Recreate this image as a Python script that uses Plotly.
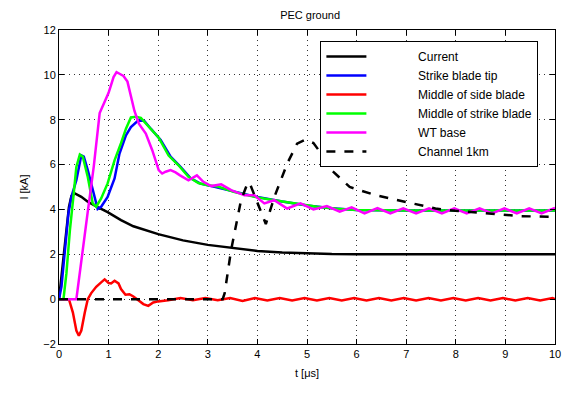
import plotly.graph_objects as go

# Current (black)
t_cur = [0, 0.05, 0.1, 0.15, 0.2, 0.25, 0.32, 0.45, 0.58, 0.78, 0.98, 1.25, 1.5, 2.0, 2.5, 3.0, 3.5, 4.0, 4.5, 5.0, 5.5, 6.0, 7.0, 8.0, 9.0, 10.0]
v_cur = [0, 1.0, 2.2, 3.3, 4.1, 4.6, 4.71, 4.56, 4.34, 4.1, 3.88, 3.52, 3.25, 2.9, 2.62, 2.42, 2.27, 2.15, 2.08, 2.03, 2.01, 2.0, 2.0, 2.0, 2.0, 2.0]

# Strike blade tip (blue)
t_tip = [0, 0.05, 0.12, 0.19, 0.25, 0.35, 0.45, 0.5, 0.58, 0.68, 0.78, 0.85, 0.98, 1.12, 1.22, 1.35, 1.45, 1.6, 1.72, 1.85, 2.05, 2.25, 2.45, 2.65, 2.85, 3.05, 3.5, 4.0, 4.5, 5.0, 5.5, 6.0, 7.0, 8.0, 9.0, 10.0]
v_tip = [0, 0.56, 2.19, 3.82, 4.56, 5.3, 6.41, 6.35, 5.75, 4.86, 4.02, 4.12, 4.56, 5.38, 6.49, 7.3, 7.67, 7.97, 7.95, 7.6, 7.1, 6.35, 5.9, 5.4, 5.15, 5.05, 4.8, 4.55, 4.35, 4.18, 4.05, 3.97, 3.95, 3.95, 3.95, 3.95]

# Middle of side blade (red)
t_side = [0, 0.2, 0.28, 0.35, 0.4, 0.45, 0.52, 0.58, 0.65, 0.75, 0.85, 0.92, 1.0, 1.05, 1.12, 1.2, 1.25, 1.34, 1.42, 1.5, 1.6, 1.7, 1.8, 1.9, 2.0, 2.2, 2.45, 2.7, 2.95, 3.2, 3.45, 3.7, 3.95, 4.2, 4.45, 4.7, 4.95, 5.2, 5.45, 5.7, 5.95, 6.2, 6.45, 6.7, 6.95, 7.2, 7.45, 7.7, 7.95, 8.2, 8.45, 8.7, 8.95, 9.2, 9.45, 9.7, 9.95, 10.0]
v_side = [0, 0, -0.6, -1.4, -1.63, -1.4, -0.6, 0, 0.27, 0.55, 0.75, 0.88, 0.72, 0.7, 0.82, 0.7, 0.45, 0.2, 0.22, 0.12, -0.05, -0.22, -0.3, -0.15, -0.1, -0.05, 0.05, -0.05, 0.05, -0.05, 0.05, -0.08, 0.05, -0.06, 0.05, -0.06, 0.05, -0.06, 0.05, -0.06, 0.05, -0.06, 0.05, -0.06, 0.05, -0.06, 0.05, -0.06, 0.05, -0.06, 0.05, -0.06, 0.05, -0.06, 0.05, -0.06, 0.05, 0.0]

# Middle of strike blade (green)
t_mid = [0, 0.09, 0.15, 0.22, 0.29, 0.35, 0.42, 0.48, 0.58, 0.68, 0.75, 0.85, 0.98, 1.12, 1.25, 1.35, 1.45, 1.55, 1.65, 1.81, 2.01, 2.21, 2.41, 2.61, 2.81, 3.0, 3.2, 3.54, 3.94, 4.34, 4.8, 5.2, 5.6, 6.0, 7.0, 8.0, 9.0, 10.0]
v_mid = [0, 0, 1.16, 3.08, 4.56, 5.89, 6.45, 6.35, 5.45, 4.27, 4.12, 4.49, 5.16, 6.19, 6.95, 7.6, 8.1, 8.13, 8.08, 7.67, 7.2, 6.4, 5.97, 5.45, 5.18, 5.08, 5.02, 4.78, 4.56, 4.41, 4.25, 4.12, 4.03, 3.97, 3.95, 3.95, 3.95, 3.95]

# WT base (magenta)
t_wt = [0, 0.35, 0.58, 0.7, 0.82, 0.9, 1.0, 1.1, 1.16, 1.22, 1.3, 1.38, 1.45, 1.52, 1.61, 1.75, 1.88, 2.01, 2.08, 2.15, 2.25, 2.35, 2.44, 2.61, 2.78, 2.91, 3.07, 3.27, 3.47, 3.74, 3.94, 4.14, 4.34, 4.6, 4.87, 5.13, 5.4, 5.66, 5.9, 6.16, 6.42, 6.68, 6.94, 7.2, 7.46, 7.72, 7.97, 8.22, 8.48, 8.73, 8.98, 9.23, 9.48, 9.73, 9.98, 10.0]
v_wt = [0, 0, 3.9, 5.9, 8.3, 8.7, 9.2, 9.9, 10.12, 10.05, 9.95, 9.7, 9.1, 8.4, 7.82, 7.38, 6.64, 5.75, 5.6, 5.68, 5.75, 5.65, 5.52, 5.3, 5.52, 5.23, 5.04, 5.12, 4.86, 4.63, 4.63, 4.27, 4.41, 4.04, 4.27, 4.0, 4.15, 3.9, 4.09, 3.82, 4.06, 3.82, 4.05, 3.82, 4.05, 3.82, 4.05, 3.82, 4.05, 3.82, 4.05, 3.82, 4.05, 3.82, 4.05, 4.0]

# Channel 1km (dashed black)
t_ch = [0, 3.3, 3.34, 3.47, 3.67, 3.8, 3.84, 3.95, 4.17, 4.35, 4.6, 4.8, 4.97, 5.13, 5.3, 5.46, 5.86, 6.39, 6.99, 7.39, 7.59, 7.99, 8.59, 9.32, 9.91, 10.0]
v_ch = [0, 0, 0.27, 2.19, 4.41, 5.16, 5.2, 4.6, 3.35, 4.6, 6.04, 6.93, 7.11, 6.96, 6.45, 5.82, 5.0, 4.63, 4.34, 4.12, 4.04, 3.94, 3.82, 3.7, 3.67, 3.78]

series_names = ["Current", "Strike blade tip", "Middle of side blade",
                "Middle of strike blade", "WT base", "Channel 1km"]

styles = [("black", "solid"), ("#0000ff", "solid"), ("#ff0000", "solid"),
          ("#00ff00", "solid"), ("#ff00ff", "solid"), ("black", "dash")]
data = [(t_cur, v_cur), (t_tip, v_tip), (t_side, v_side),
        (t_mid, v_mid), (t_wt, v_wt), (t_ch, v_ch)]

pad = "\u00a0" * 14  # leading space so legend text sits where the reference has it

fig = go.Figure()
for name, (t, v), (c, d) in zip(series_names, data, styles):
    fig.add_trace(go.Scatter(x=t, y=v, mode="lines", name=pad + name,
                             line=dict(color=c, dash=d, width=2.5)))

font = "Liberation Sans, Arial, sans-serif"
axis_common = dict(showline=True, linecolor="black", linewidth=1, mirror="ticks",
                   ticks="inside", ticklen=5, tickcolor="black",
                   showgrid=True, gridcolor="#333333", griddash="1px,4px", gridwidth=1,
                   zeroline=False, tickfont=dict(size=11, color="black"))

fig.update_layout(
    width=569, height=394,
    margin=dict(l=59, r=8, t=30, b=50),
    paper_bgcolor="white", plot_bgcolor="white",
    font=dict(family=font, size=11, color="black"),
    title=dict(text="PEC ground", x=0.545, xanchor="center", y=0.962, yanchor="middle",
               font=dict(size=11, color="black")),
    xaxis=dict(range=[0, 10], dtick=1, tick0=0,
               title=dict(text="t [μs]", font=dict(size=11), standoff=10), **axis_common),
    yaxis=dict(range=[-2, 12], dtick=2, tick0=0,
               title=dict(text="I [kA]", font=dict(size=11), standoff=12), **axis_common),
    legend=dict(x=0.527, y=0.965, xanchor="left", yanchor="top",
                bgcolor="white", bordercolor="black", borderwidth=1,
                font=dict(size=12, color="black"), tracegroupgap=0,
                itemwidth=40),
    showlegend=True,
)

fig.write_html("out.html")
